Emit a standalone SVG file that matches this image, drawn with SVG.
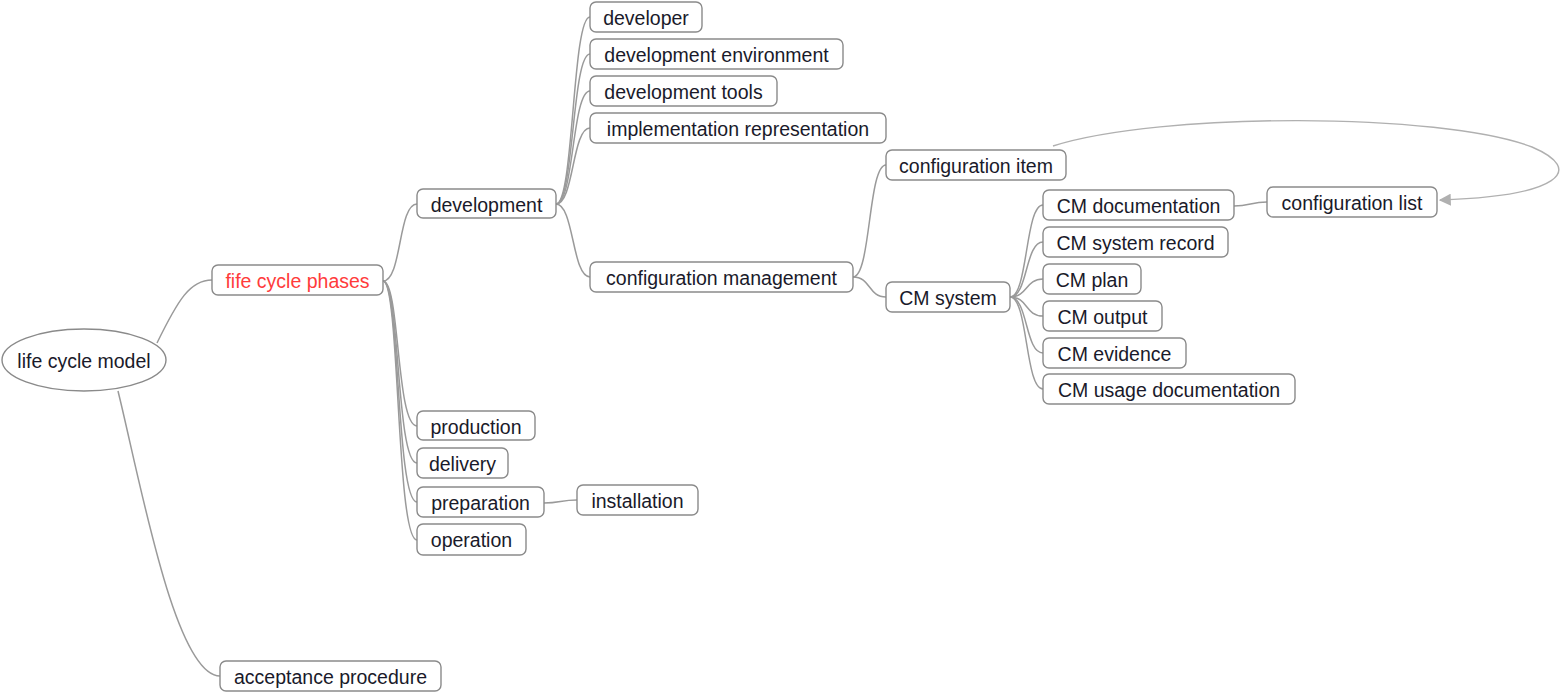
<svg xmlns="http://www.w3.org/2000/svg" width="1564" height="693" viewBox="0 0 1564 693">
<style>
.n rect, .n ellipse { fill: #fff; stroke: #8a8a8a; stroke-width: 1.4; }
.n text { font-family: "Liberation Sans", Arial, sans-serif; font-size: 19.5px; fill: #1a1a2a; text-anchor: middle; }
.n text.red { fill: #ff3b3b; }
.c path { fill: none; stroke: #9a9a9a; stroke-width: 1.5; }
.c path.rel { stroke: #b0b0b0; stroke-width: 1.4; }
</style>
<defs>
<marker id="ah" viewBox="0 0 10 10" refX="9" refY="5" markerWidth="12" markerHeight="12" markerUnits="userSpaceOnUse" orient="auto">
<path d="M0,0 L10,5 L0,10 z" fill="#b0b0b0"/>
</marker>
</defs>
<g class="c">
<path d="M157,343 C178,300 190,280 212,280"/>
<path d="M118,391 C140,480 175,676 220,676"/>
<path d="M383,281 C402,281 398,204 417,204"/>
<path d="M383,281 C400,281 396,426 417,426"/>
<path d="M383,281 C400,281 396,463 417,463"/>
<path d="M383,281 C400,281 396,502 417,502"/>
<path d="M383,281 C400,281 396,540 417,540"/>
<path d="M544,503 C560,503 561,500 577,500"/>
<path d="M556,204 C574,204 572,17 590,17"/>
<path d="M556,204 C574,204 572,54 590,54"/>
<path d="M556,204 C574,204 572,91 590,91"/>
<path d="M556,204 C574,204 572,128 590,128"/>
<path d="M556,204 C574,204 572,277 590,277"/>
<path d="M853,277 C871,277 868,165 886,165"/>
<path d="M853,277 C871,277 868,297 886,297"/>
<path d="M1010,297 C1028,297 1025,205 1043,205"/>
<path d="M1010,297 C1028,297 1025,242 1043,242"/>
<path d="M1010,297 C1028,297 1025,279 1043,279"/>
<path d="M1010,297 C1028,297 1025,316 1043,316"/>
<path d="M1010,297 C1028,297 1025,353 1043,353"/>
<path d="M1010,297 C1028,297 1025,389 1043,389"/>
<path d="M1234,206 C1250,206 1251,202 1267,202"/>
<path class="rel" d="M1053,146 C1160,112 1440,112 1532,147 C1586,170 1560,196 1440,200" marker-end="url(#ah)"/>
</g>
<g id="life-cycle-model" class="n"><ellipse cx="84" cy="360" rx="82" ry="31"/><text x="84" y="368">life cycle model</text></g>
<g id="fife-cycle-phases" class="n"><rect x="212" y="265" width="171" height="30" rx="6"/><text class="red" x="297.5" y="288">fife cycle phases</text></g>
<g id="development" class="n"><rect x="417" y="189" width="139" height="29" rx="6"/><text x="486.5" y="212">development</text></g>
<g id="developer" class="n"><rect x="590" y="2" width="112" height="30" rx="6"/><text x="646" y="25">developer</text></g>
<g id="development-environment" class="n"><rect x="590" y="39" width="253" height="30" rx="6"/><text x="716.5" y="62">development environment</text></g>
<g id="development-tools" class="n"><rect x="590" y="76" width="187" height="30" rx="6"/><text x="683.5" y="99">development tools</text></g>
<g id="implementation-representation" class="n"><rect x="590" y="113" width="296" height="30" rx="6"/><text x="738" y="136">implementation representation</text></g>
<g id="configuration-management" class="n"><rect x="590" y="262" width="263" height="30" rx="6"/><text x="721.5" y="285">configuration management</text></g>
<g id="configuration-item" class="n"><rect x="886" y="150" width="180" height="30" rx="6"/><text x="976" y="173">configuration item</text></g>
<g id="cm-system" class="n"><rect x="886" y="282" width="124" height="30" rx="6"/><text x="948" y="305">CM system</text></g>
<g id="cm-documentation" class="n"><rect x="1043" y="190" width="191" height="30" rx="6"/><text x="1138.5" y="213">CM documentation</text></g>
<g id="configuration-list" class="n"><rect x="1267" y="187" width="170" height="30" rx="6"/><text x="1352" y="210">configuration list</text></g>
<g id="cm-system-record" class="n"><rect x="1043" y="227" width="185" height="30" rx="6"/><text x="1135.5" y="250">CM system record</text></g>
<g id="cm-plan" class="n"><rect x="1043" y="264" width="98" height="30" rx="6"/><text x="1092" y="287">CM plan</text></g>
<g id="cm-output" class="n"><rect x="1043" y="301" width="119" height="30" rx="6"/><text x="1102.5" y="324">CM output</text></g>
<g id="cm-evidence" class="n"><rect x="1043" y="338" width="143" height="30" rx="6"/><text x="1114.5" y="361">CM evidence</text></g>
<g id="cm-usage-documentation" class="n"><rect x="1043" y="374" width="252" height="30" rx="6"/><text x="1169" y="397">CM usage documentation</text></g>
<g id="production" class="n"><rect x="417" y="411" width="118" height="29" rx="6"/><text x="476" y="434">production</text></g>
<g id="delivery" class="n"><rect x="417" y="448" width="91" height="30" rx="6"/><text x="462.5" y="471">delivery</text></g>
<g id="preparation" class="n"><rect x="417" y="487" width="127" height="30" rx="6"/><text x="480.5" y="510">preparation</text></g>
<g id="installation" class="n"><rect x="577" y="485" width="121" height="30" rx="6"/><text x="637.5" y="508">installation</text></g>
<g id="operation" class="n"><rect x="417" y="524" width="109" height="31" rx="6"/><text x="471.5" y="547">operation</text></g>
<g id="acceptance-procedure" class="n"><rect x="220" y="661" width="221" height="30" rx="6"/><text x="330.5" y="684">acceptance procedure</text></g>
</svg>
